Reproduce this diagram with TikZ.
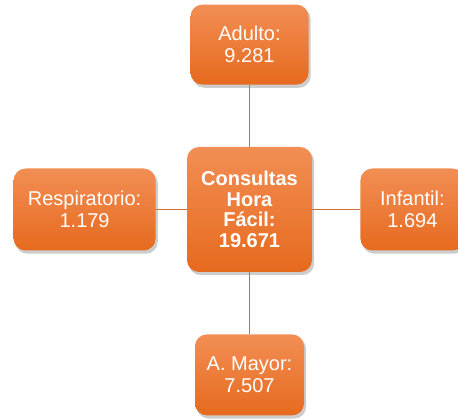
\documentclass[tikz,border=0pt]{standalone}
\usepackage{fontspec}
\setmainfont{Liberation Sans}
\usetikzlibrary{positioning,backgrounds}
\definecolor{naranjaclaro}{RGB}{242,142,84}
\definecolor{naranjaoscuro}{RGB}{230,106,30}
\definecolor{lineanaranja}{RGB}{208,110,48}
\definecolor{sombragris}{RGB}{205,205,205}
\tikzset{
    conector/.style={draw=lineanaranja, line width=1.5pt},
    sombra/.style={fill=sombragris, rounded corners=12pt}
}

\begin{document}
\begin{tikzpicture}[x=1pt, y=1pt, auto,
    caja/.style={rectangle, rounded corners=12pt, top color=naranjaclaro, bottom color=naranjaoscuro, text=white, align=center, inner sep=0pt, font=\fontsize{20}{21.5}\selectfont}]
    \useasboundingbox (0,0) rectangle (458,-419);
    \node (consultas) [caja, minimum width=125pt, minimum height=125pt, font=\bfseries\fontsize{20}{20.7}\selectfont] at (249.5,-209.5) {Consultas\\Hora\\Fácil:\\19.671};
    \node (adulto) [caja, minimum width=118pt, minimum height=80pt, above=62pt of consultas] {Adulto:\\9.281};
    \node (mayor) [caja, minimum width=109pt, minimum height=81pt, below=62pt of consultas] {A. Mayor:\\7.507};
    \node (respiratorio) [caja, minimum width=142pt, minimum height=82pt, left=31pt of consultas] {Respiratorio:\\1.179};
    \node (infantil) [caja, minimum width=104pt, minimum height=82pt, right=48pt of consultas] {Infantil:\\1.694};

    \begin{scope}[on background layer]
        % sombras
        \foreach \caja in {consultas, adulto, mayor, respiratorio, infantil}
            \path[sombra] ([shift={(2,-3)}]\caja.south west) rectangle ([shift={(2,-3)}]\caja.north east);
        \draw[conector] (consultas) -- (adulto);
        \draw[conector] (consultas) -- (mayor);
        \draw[conector] (consultas) -- (respiratorio);
        \draw[conector] (consultas) -- (infantil);
    \end{scope}
\end{tikzpicture}
\end{document}
